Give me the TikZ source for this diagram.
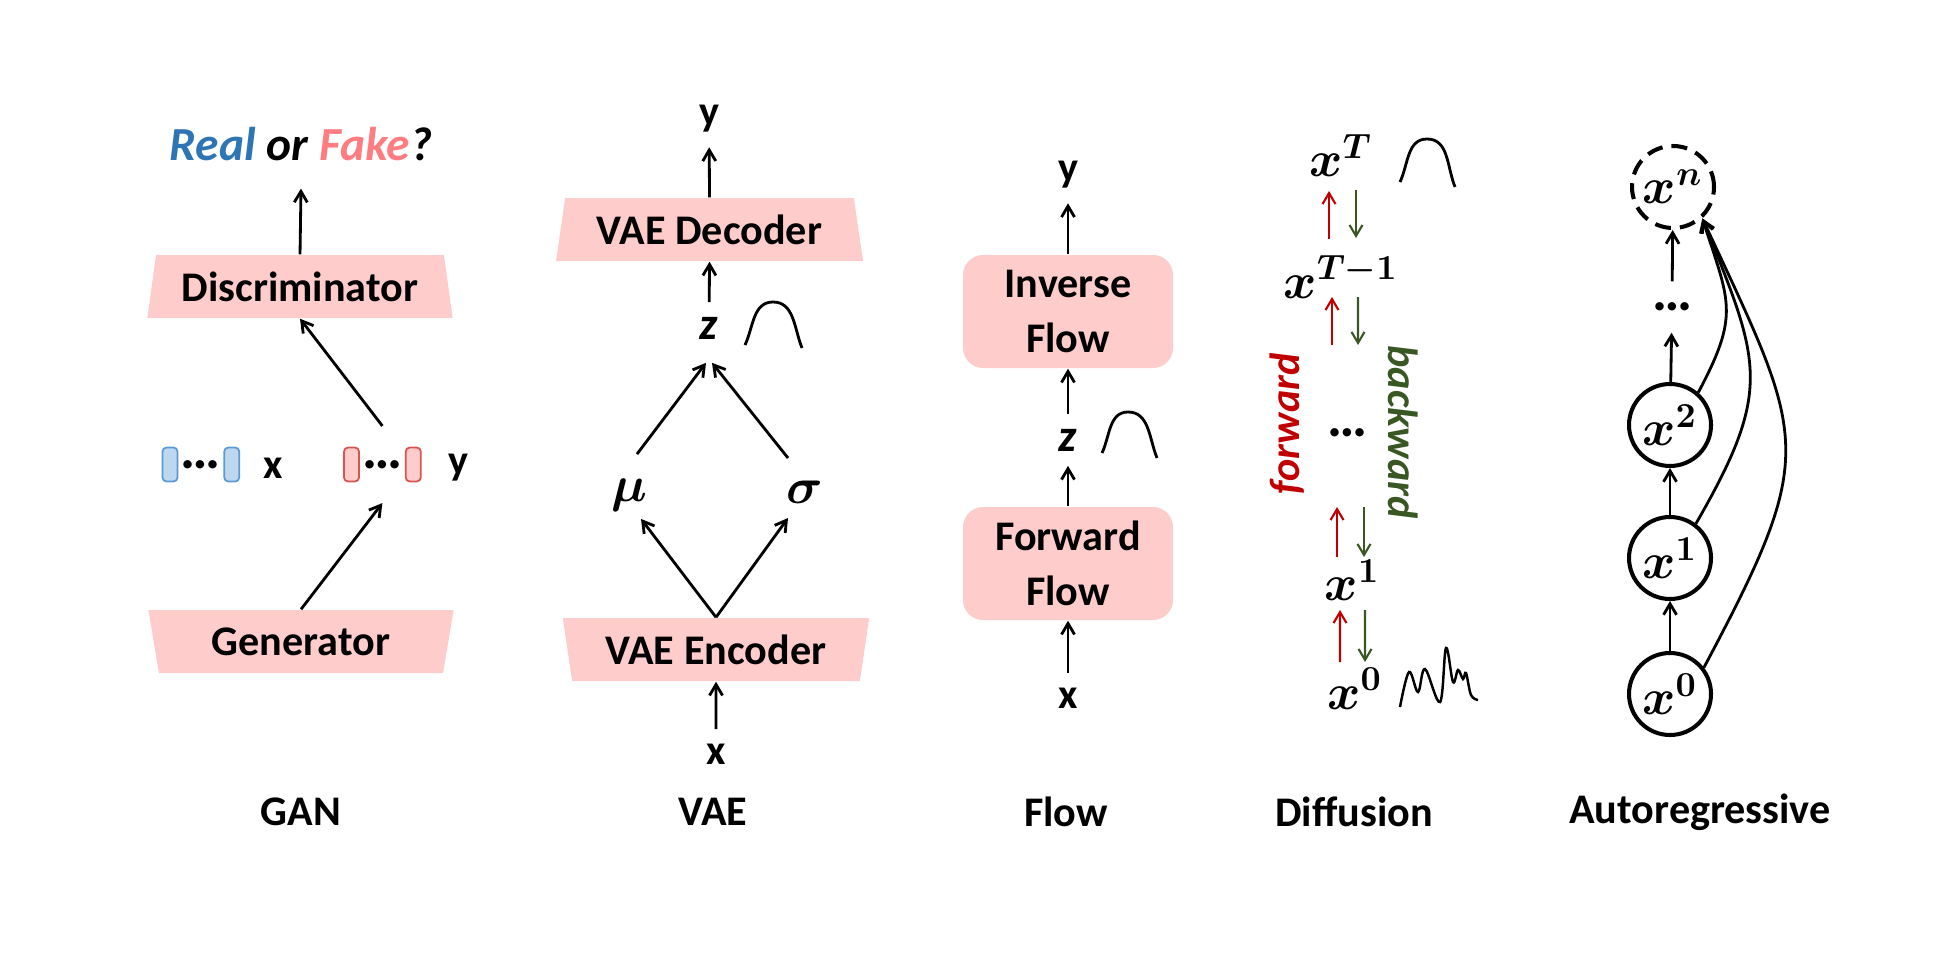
\documentclass[tikz,border=0pt]{standalone}
\usepackage{fontspec}
\setmainfont{Carlito}
\usepackage{bm}
\usepackage{tikz}
\usetikzlibrary{shapes.geometric, arrows.meta, positioning, calc, fit}

\definecolor{boxpink}{HTML}{FFCCCC}
\definecolor{realblue}{HTML}{2E75B6}
\definecolor{fakepink}{HTML}{FF7C80}
\definecolor{fwdred}{HTML}{C00000}
\definecolor{bwdgreen}{HTML}{385723}
\definecolor{tokblue}{HTML}{BDD7EE}
\definecolor{tokblueline}{HTML}{5B9BD5}
\definecolor{tokredline}{HTML}{D9534F}

\begin{document}
\begin{tikzpicture}[
    font=\bfseries\fontsize{12}{15.6}\selectfont,
    arr/.style={line width=0.8pt, -{Straight Barb[length=1.1mm,width=1.3mm]}},
    fwdarr/.style={fwdred, line width=0.6pt, -{Straight Barb[length=1.1mm,width=1.3mm]}},
    bwdarr/.style={bwdgreen, line width=0.6pt, -{Straight Barb[length=1.1mm,width=1.3mm]}},
    lbl/.style={inner sep=4pt},
    mathlbl/.style={inner sep=4pt, font=\boldmath\fontsize{14}{16}\selectfont},
    dotlbl/.style={inner sep=0pt, font=\bfseries\fontsize{16}{18}\selectfont},
    box/.style={trapezium, trapezium stretches=true, fill=boxpink, minimum width=3.06cm, minimum height=0.63cm, inner sep=0pt},
    upbox/.style={box, trapezium left angle=76.6, trapezium right angle=76.6},
    downbox/.style={box, trapezium left angle=103.4, trapezium right angle=103.4},
    flowbox/.style={rectangle, rounded corners=0.2cm, fill=boxpink, minimum width=2.10cm, minimum height=1.13cm, align=center},
    tokb/.style={draw=tokblueline, fill=tokblue, line width=0.5pt, rounded corners=0.04cm, minimum width=0.15cm, minimum height=0.34cm, inner sep=0pt},
    tokr/.style={tokb, draw=tokredline, fill=boxpink},
    arnode/.style={circle, draw, line width=1.15pt, minimum size=0.82cm, inner sep=0pt, font=\boldmath\fontsize{14.5}{16}\selectfont},
    bump/.style={line width=0.8pt}
]
    \useasboundingbox (0,0) rectangle (19.38,9.69);

    % GAN
    \node[lbl, font=\bfseries\fontsize{13.5}{16}\selectfont] (realfake) at (3.01,8.25) {\itshape\textcolor{realblue}{Real} or \textcolor{fakepink}{Fake}?};
    \node[upbox] (disc) at (3.00,6.825) {Discriminator};
    \node[tokb] (b1) at (1.70,5.045) {};
    \node[tokb, right=0.45cm of b1] (b2) {};
    \node[dotlbl] (bdots) at ($(b1)!0.5!(b2)$) {…};
    \node[lbl] (gx) at (2.73,5.01) {x};
    \node[tokr] (r1) at (3.515,5.045) {};
    \node[tokr, right=0.45cm of r1] (r2) {};
    \node[dotlbl] (rdots) at ($(r1)!0.5!(r2)$) {…};
    \node[lbl] (gy) at (4.58,5.015) {y};
    \node[fit=(r1)(r2), inner sep=0.2cm] (fake) {};
    \node[downbox] (gen) at (3.01,3.275) {Generator};
    \node[lbl] (lgan) at (3.01,1.57) {GAN};

    \draw[arr] (disc.north) -- ([yshift=-0.13cm]realfake.south);
    \draw[arr] (fake.north) -- (disc.south);
    \draw[arr] (gen.north) -- (fake.south);

    % VAE
    \node[lbl] (vy) at (7.09,8.50) {y};
    \node[upbox, minimum width=3.09cm] (dec) at (7.095,7.395) {VAE Decoder};
    \node[lbl, font=\bfseries\fontsize{13}{15}\selectfont] (vz) at (7.09,6.41) {\itshape z};
    \node[mathlbl] (mu) at (6.29,4.74) {$\bm{\mu}$};
    \node[mathlbl] (sigma) at (8.05,4.77) {$\bm{\sigma}$};
    \node[downbox, minimum width=3.08cm] (enc) at (7.16,3.195) {VAE Encoder};
    \node[lbl] (vx) at (7.16,2.15) {x};
    \node[lbl] (lvae) at (7.13,1.57) {VAE};

    \draw[arr] (dec.north) -- (vy);
    \draw[arr] (vz) -- (dec.south);
    \draw[arr] ([xshift=0.08cm,yshift=0.1cm]mu.north) -- ([xshift=-0.03cm,yshift=-0.09cm]vz.south);
    \draw[arr] ([xshift=-0.17cm,yshift=0.08cm]sigma.north) -- ([xshift=0.03cm,yshift=-0.09cm]vz.south);
    \draw[arr] (enc.north) -- ([xshift=0.12cm,yshift=0.07cm]mu.south);
    \draw[arr] (enc.north) -- ([xshift=-0.17cm]sigma.south);
    \draw[arr] (vx) -- (enc.south);
    \draw[bump] (7.45,6.24) to[out=65,in=180] (7.73,6.67) to[out=0,in=112] (8.02,6.21);

    % Flow
    \node[lbl] (fy) at (10.68,7.94) {y};
    \node[flowbox] (invflow) at (10.68,6.575) {Inverse\\Flow};
    \node[lbl, font=\bfseries\fontsize{13}{15}\selectfont] (fz) at (10.68,5.29) {\itshape z};
    \node[flowbox] (fwdflow) at (10.68,4.055) {Forward\\Flow};
    \node[lbl] (fx) at (10.68,2.71) {x};
    \node[lbl] (lflow) at (10.66,1.57) {Flow};

    \draw[arr] (invflow.north) -- (fy);
    \draw[arr] (fz) -- (invflow.south);
    \draw[arr] (fwdflow.north) -- (fz);
    \draw[arr] (fx) -- (fwdflow.south);
    \draw[bump] (11.02,5.16) to[out=65,in=180] (11.28,5.57) to[out=0,in=112] (11.57,5.11);

    % Diffusion
    \node[mathlbl] (xT) at (13.41,8.135) {$\bm{x}^{\bm{T}}$};
    \node[mathlbl] (xT1) at (13.41,6.92) {$\bm{x}^{\bm{T-1}}$};
    \node[dotlbl] (ddots) at (13.47,5.36) {…};
    \node[mathlbl] (x1) at (13.525,3.89) {$\bm{x}^{\bm{1}}$};
    \node[mathlbl] (x0) at (13.55,2.805) {$\bm{x}^{\bm{0}}$};
    \node[lbl, fwdred, rotate=90] (fwdlbl) at (12.87,5.45) {\itshape forward};
    \node[lbl, bwdgreen, rotate=-90] (bwdlbl) at (14.03,5.37) {\itshape backward};
    \node[lbl] (ldiff) at (13.54,1.57) {Diffusion};

    \draw[fwdarr] ([xshift=-0.12cm,yshift=0.38cm]xT1.center) -- ([xshift=-0.12cm,yshift=-0.355cm]xT.center);
    \draw[bwdarr] ([xshift=0.15cm,yshift=-0.345cm]xT.center) -- ([xshift=0.15cm,yshift=0.39cm]xT1.center);
    \draw[fwdarr] ([xshift=-0.15cm,yshift=0.88cm]ddots.center) -- ([xshift=-0.09cm,yshift=-0.20cm]xT1.center);
    \draw[bwdarr] ([xshift=0.17cm,yshift=-0.20cm]xT1.center) -- ([xshift=0.11cm,yshift=0.88cm]ddots.center);
    \draw[fwdarr] ([xshift=-0.155cm,yshift=0.23cm]x1.center) -- ([xshift=-0.10cm,yshift=-0.74cm]ddots.center);
    \draw[bwdarr] ([xshift=0.17cm,yshift=-0.74cm]ddots.center) -- ([xshift=0.115cm,yshift=0.23cm]x1.center);
    \draw[fwdarr] ([xshift=-0.15cm,yshift=0.265cm]x0.center) -- ([xshift=-0.125cm,yshift=-0.30cm]x1.center);
    \draw[bwdarr] ([xshift=0.125cm,yshift=-0.30cm]x1.center) -- ([xshift=0.10cm,yshift=0.265cm]x0.center);
    \draw[bump] (14.00,7.87) to[out=65,in=180] (14.27,8.30) to[out=0,in=112] (14.55,7.82);
    \draw[bump, line width=0.7pt] plot[smooth, tension=0.6] coordinates {(14.00,2.62) (14.09,2.97) (14.18,2.77) (14.25,3.00) (14.40,2.67) (14.46,3.21) (14.53,2.87) (14.58,2.99) (14.63,2.90) (14.66,2.96) (14.71,2.74) (14.78,2.69)};

    % Autoregressive
    \node[arnode, dash pattern=on 0.16cm off 0.09cm] (xn) at (16.73,7.82) {$\bm{x}^{\bm{n}}$};
    \node[dotlbl, minimum height=0.5cm] (ardots) at (16.72,6.62) {…};
    \node[arnode] (ar2) at (16.70,5.44) {$\bm{x}^{\bm{2}}$};
    \node[arnode] (ar1) at (16.70,4.11) {$\bm{x}^{\bm{1}}$};
    \node[arnode] (ar0) at (16.70,2.75) {$\bm{x}^{\bm{0}}$};
    \node[lbl] (lar) at (17.00,1.57) {Autoregressive};

    \draw[arr] (ar0) -- (ar1);
    \draw[arr] (ar1) -- (ar2);
    \draw[arr] (ar2) -- (ardots);
    \draw[arr] (ardots) -- (xn);
    \draw[arr] (ar2.49) to[out=62,in=-72,looseness=1.3] (xn.-47);
    \draw[arr] (ar1.53) to[out=60,in=-68,looseness=1.3] (xn.-47);
    \draw[arr] (ar0.38) to[out=62,in=-65,looseness=1.4] (xn.-47);
\end{tikzpicture}
\end{document}
